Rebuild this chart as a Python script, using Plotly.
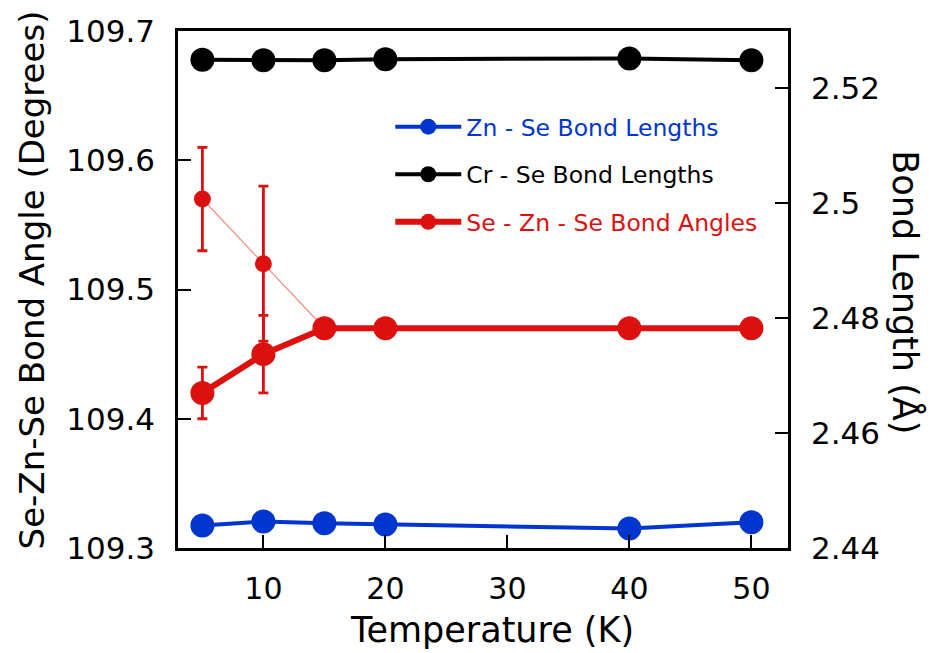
import plotly.graph_objects as go

# ---- data ----
temps = [5, 10, 15, 20, 40, 50]
zn_se_len = [2.4439, 2.4446, 2.4443, 2.4441, 2.4434, 2.4445]
cr_se_len = [2.5250, 2.5249, 2.5249, 2.5251, 2.5252, 2.5249]
se_zn_se_angle = [109.42, 109.45, 109.47, 109.47, 109.47, 109.47]
se_zn_se_err = [0.02, 0.03, 0.0, 0.0, 0.0, 0.0]

alt_temps = [5, 10, 15]
alt_angle = [109.57, 109.52, 109.47]
alt_err = [0.04, 0.06, 0.0]

x_ticks = [10, 20, 30, 40, 50]
y1_ticks = [109.3, 109.4, 109.5, 109.6, 109.7]
y1_ticktext = ["109.3", "109.4", "109.5", "109.6", "109.7"]
y2_ticks = [2.44, 2.46, 2.48, 2.50, 2.52]
y2_ticktext = ["2.44", "2.46", "2.48", "2.5", "2.52"]

BLUE = "#0036CF"
BLACK = "#000000"
RED = "#DD1010"
LIGHTRED = "#F08C80"
FONT = "DejaVu Sans"

fig = go.Figure()

# thin secondary angle series (no legend)
fig.add_trace(go.Scatter(
    x=alt_temps, y=alt_angle, mode="lines+markers",
    line=dict(color=LIGHTRED, width=1.2),
    marker=dict(color=RED, size=17),
    error_y=dict(type="data", array=alt_err, color=RED, thickness=2.8, width=5),
    showlegend=False, yaxis="y"))

fig.add_trace(go.Scatter(
    x=temps, y=zn_se_len, mode="lines+markers",
    name="<span style='color:%s'>Zn - Se Bond Lengths</span>" % BLUE,
    line=dict(color=BLUE, width=4), marker=dict(color=BLUE, size=24),
    legendgroup="a", legendrank=1, yaxis="y2"))

fig.add_trace(go.Scatter(
    x=temps, y=cr_se_len, mode="lines+markers",
    name="<span style='color:%s'>Cr - Se Bond Lengths</span>" % BLACK,
    line=dict(color=BLACK, width=4), marker=dict(color=BLACK, size=24),
    legendgroup="b", legendrank=2, yaxis="y2"))

fig.add_trace(go.Scatter(
    x=temps, y=se_zn_se_angle, mode="lines+markers",
    name="<span style='color:%s'>Se - Zn - Se Bond Angles</span>" % RED,
    line=dict(color=RED, width=6), marker=dict(color=RED, size=24),
    error_y=dict(type="data", array=se_zn_se_err, color=RED, thickness=2.8, width=5),
    legendgroup="c", legendrank=3, yaxis="y"))

fig.update_layout(
    width=931, height=653,
    margin=dict(l=178, r=143, t=31, b=105),
    paper_bgcolor="white", plot_bgcolor="white",
    font=dict(family=FONT, color="black"),
    showlegend=True,
    legend=dict(x=0.348, y=0.857, xanchor="left", yanchor="top",
                bgcolor="rgba(0,0,0,0)", font=dict(size=23.5, family=FONT),
                tracegroupgap=14, itemwidth=66, traceorder="grouped"),
    xaxis=dict(range=[3, 53], tickvals=x_ticks, ticks="inside", ticklen=13,
               tickwidth=2, tickcolor="black", showline=True, linewidth=2.5,
               linecolor="black", mirror=True, showgrid=False, zeroline=False,
               tickfont=dict(size=30, family=FONT), ticklabelstandoff=12),
    yaxis=dict(range=[109.3, 109.7], tickvals=y1_ticks, ticktext=y1_ticktext,
               ticks="inside", ticklen=13, tickwidth=2, tickcolor="black",
               showline=True, linewidth=2.5, linecolor="black", showgrid=False,
               zeroline=False, tickfont=dict(size=31, family=FONT),
               ticklabelstandoff=14),
    yaxis2=dict(range=[2.44, 2.53], tickvals=y2_ticks, ticktext=y2_ticktext,
                overlaying="y", side="right", ticks="inside", ticklen=13,
                tickwidth=2, tickcolor="black", showline=True, linewidth=2.5,
                linecolor="black", showgrid=False, zeroline=False,
                tickfont=dict(size=31, family=FONT), ticklabelstandoff=14),
    annotations=[
        dict(text="Temperature (K)", xref="paper", yref="paper",
             x=0.515, y=-0.159, xanchor="center", yanchor="middle",
             showarrow=False, font=dict(size=35, family=FONT)),
        dict(text="Se-Zn-Se Bond Angle (Degrees)", textangle=-90,
             xref="paper", yref="paper", x=-0.239, y=0.518,
             xanchor="center", yanchor="middle",
             showarrow=False, font=dict(size=34, family=FONT)),
        dict(text="Bond Length (Å)", textangle=90, xref="paper", yref="paper",
             x=1.193, y=0.495, xanchor="center", yanchor="middle",
             showarrow=False, font=dict(size=35, family=FONT)),
    ],
)

fig.write_html("out.html", config={"displayModeBar": False},
               post_script="document.body.style.margin='0';document.body.style.overflow='hidden';")
